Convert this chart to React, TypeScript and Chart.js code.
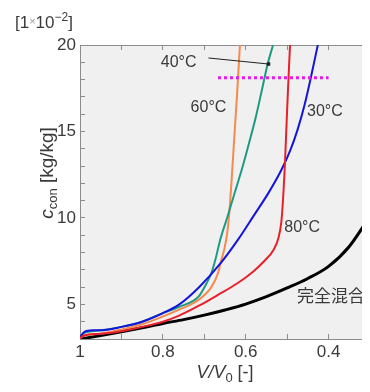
import React, { useEffect, useRef } from 'react';
import { Chart, registerables } from 'chart.js';

Chart.register(...registerables);

// ---- data (V/V0 on x, c_con in 1e-2 kg/kg on y) ----
const mixX = [1, 0.95, 0.9, 0.85, 0.8, 0.75, 0.7, 0.65, 0.6, 0.55, 0.5, 0.45, 0.4, 0.35, 0.3];
const mixY = [3.0, 3.2, 3.42, 3.65, 3.9, 4.12, 4.38, 4.68, 5.02, 5.45, 5.95, 6.5, 7.2, 8.35, 10.1];

const t80X = [1, 0.99, 0.95, 0.9, 0.85, 0.8, 0.762, 0.714, 0.667, 0.619, 0.583, 0.555, 0.533, 0.521, 0.514, 0.51, 0.506, 0.502, 0.498, 0.493];
const t80Y = [3.05, 3.2, 3.3, 3.45, 3.7, 4.0, 4.34, 4.91, 5.55, 6.24, 6.88, 7.51, 8.15, 8.84, 9.77, 11.04, 12.77, 15.09, 17.4, 20];

const t30X = [1, 0.99, 0.97, 0.95, 0.9, 0.85, 0.8, 0.762, 0.712, 0.66, 0.619, 0.581, 0.545, 0.514, 0.492, 0.475, 0.458, 0.443, 0.426];
const t30Y = [3.1, 3.4, 3.5, 3.5, 3.7, 4.0, 4.5, 4.97, 6.01, 7.4, 8.73, 10.12, 11.45, 12.77, 13.93, 15.09, 16.53, 18.09, 20];

const t40X = [1, 0.99, 0.97, 0.95, 0.9, 0.85, 0.8, 0.762, 0.714, 0.695, 0.683, 0.672, 0.662, 0.645, 0.626, 0.607, 0.59, 0.574, 0.56, 0.547, 0.534];
const t40Y = [3.1, 3.35, 3.45, 3.5, 3.7, 4.0, 4.5, 4.85, 5.45, 6.2, 6.8, 7.7, 8.7, 10.0, 11.5, 13.0, 14.5, 16.0, 17.5, 18.9, 20];

const t60X = [1, 0.99, 0.95, 0.9, 0.85, 0.8, 0.762, 0.714, 0.683, 0.667, 0.66, 0.651, 0.645, 0.64, 0.634, 0.628, 0.621, 0.614];
const t60Y = [3.05, 3.2, 3.3, 3.55, 3.85, 4.3, 4.68, 5.26, 6.0, 6.8, 7.46, 8.27, 9.08, 10.17, 12.2, 14.5, 17.1, 20];

const limitX = [0.667, 0.4];
const limitY = [18.1, 18.1];

const arrowX = [0.69, 0.545];
const arrowY = [19.25, 18.9];

const xMin = 0.3;
const xMax = 1;
const yMin = 3;
const yMax = 20;

// annotation labels: [text, x (left edge), y (middle)]
const labelTexts = ['40°C', '60°C', '30°C', '80°C', '完全混合'];
const labelX = [0.805, 0.733, 0.452, 0.507, 0.476];
const labelY = [18.96, 16.36, 16.13, 9.42, 5.49];

const FONT = "'Liberation Sans', Arial, Helvetica, sans-serif";
const TEXT = '#3a3a3a';
const AXIS = '#8c8c8c';

const pts = (xs: number[], ys: number[]) => xs.map((x, i) => ({ x, y: ys[i] }));

type Seg = { t: string; font: string; dy?: number; color?: string };

function drawSegs(ctx: CanvasRenderingContext2D, segs: Seg[], x: number, y: number, align: 'left' | 'center') {
  let total = 0;
  for (const s of segs) {
    ctx.font = s.font;
    total += ctx.measureText(s.t).width;
  }
  let cx = align === 'center' ? x - total / 2 : x;
  ctx.textAlign = 'left';
  ctx.textBaseline = 'alphabetic';
  for (const s of segs) {
    ctx.font = s.font;
    ctx.fillStyle = s.color || TEXT;
    ctx.fillText(s.t, cx, y + (s.dy || 0));
    cx += ctx.measureText(s.t).width;
  }
}

const bgPlugin = {
  id: 'bg',
  beforeDraw(chart: any) {
    const { ctx, chartArea: a } = chart;
    ctx.save();
    ctx.fillStyle = '#f0f0f0';
    ctx.fillRect(a.left, a.top, a.right - a.left, a.bottom - a.top);
    ctx.restore();
  },
};

const textPlugin = {
  id: 'texts',
  afterDraw(chart: any) {
    const { ctx, chartArea: a } = chart;
    const xs = chart.scales.x;
    const ys = chart.scales.y;
    ctx.save();
    labelTexts.forEach((t, i) => {
      const isCJK = /[\u3000-\u9fff]/.test(t);
      ctx.font = isCJK ? `17px 'Noto Sans CJK JP', sans-serif` : `16px ${FONT}`;
      ctx.fillStyle = TEXT;
      ctx.textAlign = 'left';
      ctx.textBaseline = 'middle';
      ctx.fillText(t, xs.getPixelForValue(labelX[i]), ys.getPixelForValue(labelY[i]));
    });
    drawSegs(ctx, [
      { t: '[1', font: `17px ${FONT}` },
      { t: '×', font: `11px ${FONT}`, dy: -3, color: '#9a9a9a' },
      { t: '10', font: `17px ${FONT}` },
      { t: '−2', font: `12px ${FONT}`, dy: -7 },
      { t: ']', font: `17px ${FONT}` },
    ], 7, 20, 'left');
    drawSegs(ctx, [
      { t: 'V/V', font: `italic 18px ${FONT}` },
      { t: '0', font: `13px ${FONT}`, dy: 4 },
      { t: ' [-]', font: `18px ${FONT}` },
    ], (a.left + a.right) / 2, 370, 'center');
    ctx.translate(45, (a.top + a.bottom) / 2 - 19);
    ctx.rotate(-Math.PI / 2);
    drawSegs(ctx, [
      { t: 'c', font: `italic 19px ${FONT}` },
      { t: 'con', font: `13px ${FONT}`, dy: 4 },
      { t: ' [kg/kg]', font: `19px ${FONT}` },
    ], 0, 0, 'center');
    ctx.restore();
  },
};

const line = (data: any, color: string, width: number, extra: any = {}) => ({
  data,
  borderColor: color,
  backgroundColor: color,
  borderWidth: width,
  pointRadius: 0,
  cubicInterpolationMode: 'monotone',
  borderJoinStyle: 'round',
  fill: false,
  ...extra,
});

export default function App() {
  const ref = useRef<HTMLCanvasElement>(null);

  useEffect(() => {
    const canvas = ref.current;
    if (!canvas) return;
    const xTick = (v: any) => {
      const k = Math.round(Number(v) * 10);
      if (k % 2 !== 0) return '';
      return k === 10 ? '1' : (k / 10).toFixed(1);
    };
    const yTick = (v: any) => {
      const k = Math.round(Number(v));
      return k % 5 === 0 ? String(k) : '';
    };
    const gridOpt = { drawOnChartArea: false, drawTicks: true, tickLength: -5, color: AXIS, lineWidth: 1 };
    const borderOpt = { display: true, color: AXIS, width: 1 };
    const chart = new Chart(canvas, {
      type: 'line',
      data: {
        datasets: [
          line(pts(arrowX, arrowY), '#222222', 1, {
            cubicInterpolationMode: 'default',
            tension: 0,
            pointRadius: [0, 2.5],
            pointStyle: 'rect',
            pointBorderWidth: 0,
          }),
          line(pts(limitX, limitY), '#e619e6', 3, { cubicInterpolationMode: 'default', tension: 0, borderDash: [3, 3] }),
          line(pts(t80X, t80Y), '#e8202a', 2),
          line(pts(t30X, t30Y), '#1414dc', 2),
          line(pts(t40X, t40Y), '#1e9a82', 2),
          line(pts(t60X, t60Y), '#f58a4c', 2),
          line(pts(mixX, mixY), '#000000', 3),
        ] as any,
      },
      options: {
        animation: false,
        responsive: false,
        maintainAspectRatio: false,
        layout: { padding: { top: 37, right: 5, left: 0, bottom: 0 } },
        plugins: { legend: { display: false }, tooltip: { enabled: false }, title: { display: false } },
        scales: {
          x: {
            type: 'linear',
            position: 'bottom',
            reverse: true,
            min: xMin,
            max: xMax,
            ticks: {
              stepSize: 0.1,
              autoSkip: false,
              maxRotation: 0,
              padding: 8,
              color: TEXT,
              font: { size: 17, family: FONT },
              callback: xTick,
            },
            grid: gridOpt,
            border: borderOpt,
            afterFit: (s: any) => { s.height = 45; },
          },
          x2: {
            type: 'linear',
            position: 'top',
            reverse: true,
            min: xMin,
            max: xMax,
            ticks: { stepSize: 0.1, autoSkip: false, display: false },
            grid: gridOpt,
            border: borderOpt,
            afterFit: (s: any) => { s.height = 0; },
          },
          y: {
            type: 'linear',
            position: 'left',
            min: yMin,
            max: yMax,
            ticks: {
              stepSize: 1,
              autoSkip: false,
              padding: 9,
              color: TEXT,
              font: { size: 17, family: FONT },
              callback: yTick,
            },
            grid: gridOpt,
            border: borderOpt,
            afterFit: (s: any) => { s.width = 72; },
          },
          y2: {
            type: 'linear',
            position: 'right',
            min: yMin,
            max: yMax,
            ticks: { stepSize: 1, autoSkip: false, display: false },
            grid: gridOpt,
            border: borderOpt,
            afterFit: (s: any) => { s.width = 0; },
          },
        },
      } as any,
      plugins: [bgPlugin, textPlugin],
    });
    return () => chart.destroy();
  }, []);

  return (
    <div style={{ width: 362, height: 376, overflow: 'hidden' }}>
      <canvas ref={ref} width={370} height={376} style={{ display: 'block', width: 370, height: 376 }} />
    </div>
  );
}
